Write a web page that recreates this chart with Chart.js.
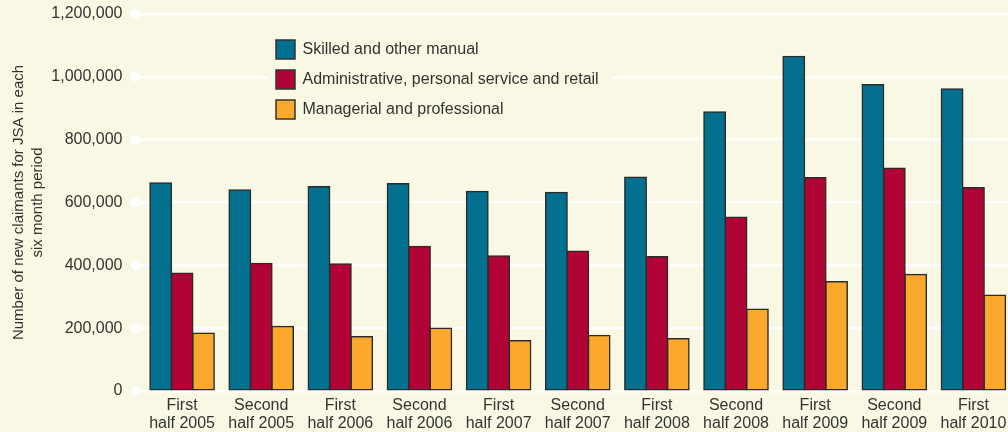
<!DOCTYPE html>
<html lang="en">
<head>
    <meta charset="UTF-8">
    <title>New JSA claimants by occupation</title>
    <script src="https://cdn.jsdelivr.net/npm/chart.js"></script>
    <style>
        body { margin: 0; background: #f8f8e4; overflow: hidden; }
        #wrap { width: 1014px; height: 432px; }
    </style>
</head>
<body>
    <div id="wrap"><canvas id="jsaChart" width="1014" height="432"></canvas></div>

    <script>
        const periods = [
            ["First", "half 2005"], ["Second", "half 2005"], ["First", "half 2006"], ["Second", "half 2006"],
            ["First", "half 2007"], ["Second", "half 2007"], ["First", "half 2008"], ["Second", "half 2008"],
            ["First", "half 2009"], ["Second", "half 2009"], ["First", "half 2010"]
        ];
        const skilledManual = [662000, 640000, 650000, 660000, 635000, 632000, 680000, 888000, 1065000, 975000, 961000];
        const adminRetail   = [375000, 406000, 404000, 460000, 430000, 445000, 427000, 553000, 679000, 709000, 647000];
        const managerial    = [184000, 205000, 173000, 200000, 160000, 177000, 166000, 260000, 348000, 371000, 305000];
        const yTicks = [0, 200000, 400000, 600000, 800000, 1000000, 1200000];

        const fontFamily = "'Liberation Sans', Arial, sans-serif";
        const textColor = "#333333";
        const bgColor = "#f8f8e4";

        // white dots at the left end of each grid line
        const tickDots = {
            id: "tickDots",
            beforeDatasetsDraw(chart) {
                const ctx = chart.ctx;
                const y = chart.scales.y;
                ctx.save();
                ctx.fillStyle = "#ffffff";
                y.ticks.forEach(t => {
                    ctx.beginPath();
                    ctx.arc(chart.chartArea.left - 7, y.getPixelForValue(t.value), 5, 0, Math.PI * 2);
                    ctx.fill();
                });
                ctx.restore();
            }
        };

        // legend box drawn inside the plot
        const innerLegend = {
            id: "innerLegend",
            afterDatasetsDraw(chart) {
                const ctx = chart.ctx;
                ctx.save();
                ctx.fillStyle = bgColor;
                ctx.fillRect(268, 34, 344, 90);
                ctx.font = "16px " + fontFamily;
                ctx.textBaseline = "middle";
                chart.data.datasets.forEach((ds, i) => {
                    const cy = 49.5 + i * 30;
                    ctx.fillStyle = ds.backgroundColor;
                    ctx.fillRect(276, cy - 9.5, 19, 19);
                    ctx.strokeStyle = "#333333";
                    ctx.lineWidth = 1.5;
                    ctx.strokeRect(276, cy - 9.5, 19, 19);
                    ctx.fillStyle = textColor;
                    ctx.fillText(ds.label, 302.5, cy);
                });
                ctx.restore();
            }
        };

        const series = [
            { label: "Skilled and other manual", data: skilledManual, color: "#02708e" },
            { label: "Administrative, personal service and retail", data: adminRetail, color: "#b00336" },
            { label: "Managerial and professional", data: managerial, color: "#fba92c" }
        ];

        new Chart(document.getElementById("jsaChart"), {
            type: "bar",
            data: {
                labels: periods,
                datasets: series.map(s => ({
                    label: s.label,
                    data: s.data,
                    backgroundColor: s.color,
                    borderColor: "#2b2b2b",
                    borderWidth: 1.5,
                    borderSkipped: false,
                    inflateAmount: 0.75,
                    barPercentage: 1.0,
                    categoryPercentage: 0.81
                }))
            },
            options: {
                responsive: false,
                animation: false,
                layout: { padding: { top: 14, right: 1, left: 0, bottom: 0 } },
                plugins: {
                    legend: { display: false },
                    tooltip: { enabled: false }
                },
                scales: {
                    x: {
                        afterFit: scale => {
                            scale.height = 41;
                            scale.paddingLeft = 0;
                            scale.paddingRight = 0;
                        },
                        grid: { display: false, drawTicks: false },
                        border: { display: false },
                        ticks: {
                            color: textColor,
                            font: { family: fontFamily, size: 16, lineHeight: 1.15 },
                            padding: 5,
                            maxRotation: 0,
                            autoSkip: false
                        }
                    },
                    y: {
                        min: 0,
                        max: 1200000,
                        afterBuildTicks: axis => { axis.ticks = yTicks.map(v => ({ value: v })); },
                        afterFit: scale => {
                            scale.width = 142.5;
                            scale.paddingTop = 0;
                            scale.paddingBottom = 0;
                        },
                        grid: {
                            color: "#ffffff",
                            lineWidth: 2.5,
                            drawTicks: true,
                            tickLength: 8,
                            tickColor: "#ffffff"
                        },
                        border: { display: false },
                        ticks: {
                            color: textColor,
                            font: { family: fontFamily, size: 16 },
                            padding: 12,
                            callback: v => v.toLocaleString("en-US")
                        },
                        title: {
                            display: true,
                            text: ["Number of new claimants for JSA in each", "six month period"],
                            color: textColor,
                            font: { family: fontFamily, size: 15, lineHeight: 1.3 },
                            padding: { top: 9, bottom: 0 }
                        }
                    }
                }
            },
            plugins: [tickDots, innerLegend]
        });
    </script>
</body>
</html>
